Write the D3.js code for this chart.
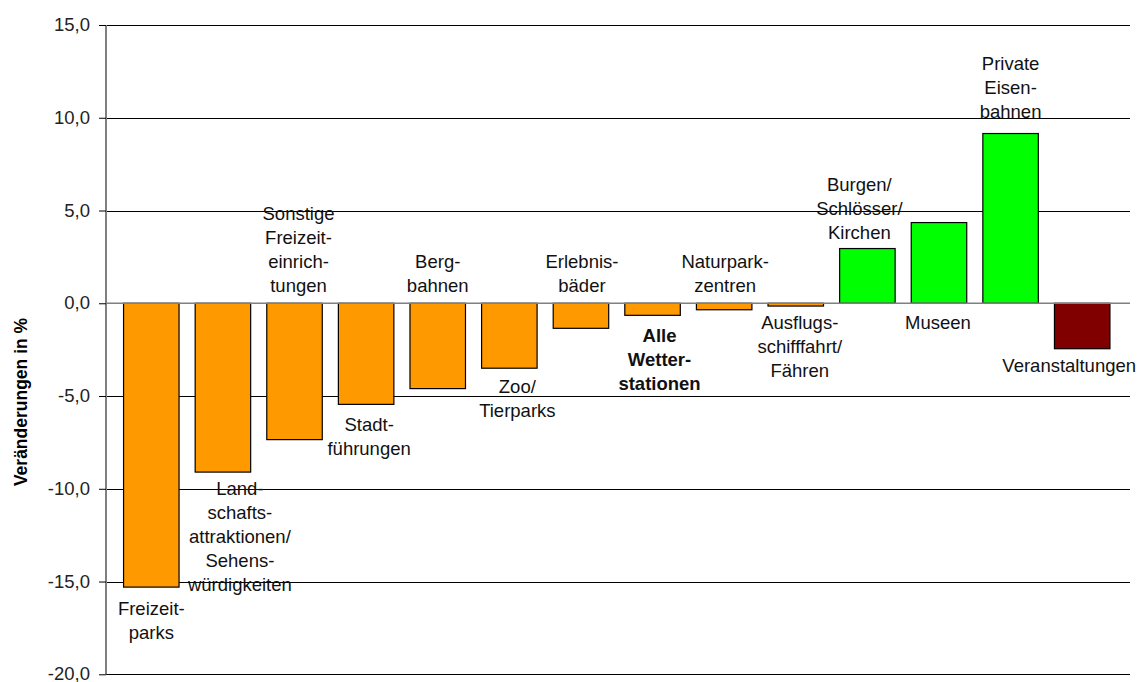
<!DOCTYPE html>
<html>
<head>
    <meta charset="utf-8">
    <title>Veränderungen</title>
    <script src="https://d3js.org/d3.v7.min.js"></script>
    <style>
        body { margin: 0; padding: 0; background: #fff; }
        text { font-family: "Liberation Sans", Arial, sans-serif; }
    </style>
</head>
<body>
<svg width="1139" height="682"></svg>
<script>
    // categories (line breaks as in the original labels)
    const categories = [
        ["Freizeit-", "parks"],
        ["Land-", "schafts-", "attraktionen/", "Sehens-", "würdigkeiten"],
        ["Sonstige", "Freizeit-", "einrich-", "tungen"],
        ["Stadt-", "führungen"],
        ["Berg-", "bahnen"],
        ["Zoo/", "Tierparks"],
        ["Erlebnis-", "bäder"],
        ["Alle", "Wetter-", "stationen"],
        ["Naturpark-", "zentren"],
        ["Ausflugs-", "schifffahrt/", "Fähren"],
        ["Burgen/", "Schlösser/", "Kirchen"],
        ["Museen"],
        ["Private", "Eisen-", "bahnen"],
        ["Veranstaltungen"]
    ];
    const values = [-15.3, -9.1, -7.35, -5.45, -4.6, -3.5, -1.35, -0.65, -0.35, -0.15, 2.95, 4.35, 9.15, -2.45];
    const groups = ["neg", "neg", "neg", "neg", "neg", "neg", "neg", "neg", "neg", "neg", "pos", "pos", "pos", "other"];
    const yTicks = [15, 10, 5, 0, -5, -10, -15, -20];

    // label placement: side of the bar, small nudges
    const labelSide = ["below", "below", "above", "below", "above", "below", "above", "below", "above", "below", "above", "below", "above", "below"];
    const labelNudge = [[0, 2], [17, -3], [4, 0], [3, 1], [0, 0], [8, -1], [1, 0], [7, 1], [1, 0], [4, -3], [-8, 2], [-1, 0], [0, -4], [-13, -2]];

    const colors = { neg: "#FF9900", pos: "#00FF00", other: "#800000" };

    const svg = d3.select("svg");
    const fontSize = 18.5, lineH = 24;

    const x = d3.scaleBand()
        .domain(d3.range(values.length))
        .range([115.5, 1118])
        .paddingInner(0.225)
        .paddingOuter(0.1125);

    const y = d3.scaleLinear()
        .domain([-20, 15])
        .range([674.3, 25]);

    const plotLeft = 106, plotRight = 1130;
    const fmt = v => d3.format(".1f")(v).replace(".", ",").replace("−", "-");

    // gridlines
    svg.append("g").selectAll("line")
        .data(yTicks.filter(t => t !== 0))
        .enter().append("line")
        .attr("x1", plotLeft).attr("x2", plotRight)
        .attr("y1", d => Math.round(y(d)) + 0.5).attr("y2", d => Math.round(y(d)) + 0.5)
        .attr("stroke", "#000").attr("stroke-width", 1);

    // y axis
    const yaxis = d3.axisLeft(y).tickValues(yTicks).tickSize(7).tickFormat(fmt);
    const ga = svg.append("g")
        .attr("transform", `translate(${plotLeft}, 0)`)
        .call(yaxis);
    ga.select(".domain").attr("stroke", "#808080").attr("stroke-width", 2)
        .attr("d", `M0,${y(15)}V${y(-20)}`);
    ga.selectAll(".tick line").attr("stroke", "#000");
    ga.selectAll(".tick text")
        .attr("x", -16)
        .attr("dy", "0.3em")
        .attr("fill", "#222")
        .style("font-family", '"Liberation Sans", Arial, sans-serif')
        .style("font-size", fontSize + "px");

    // bars
    svg.append("g").selectAll("rect")
        .data(values)
        .enter().append("rect")
        .attr("x", (d, i) => x(i))
        .attr("y", d => y(Math.max(0, d)))
        .attr("width", x.bandwidth())
        .attr("height", d => Math.abs(y(d) - y(0)))
        .attr("fill", (d, i) => colors[groups[i]])
        .attr("stroke", "#000")
        .attr("stroke-width", 1.2);

    // zero line
    svg.append("line")
        .attr("x1", plotLeft).attr("x2", plotRight)
        .attr("y1", y(0)).attr("y2", y(0))
        .attr("stroke", "#808080").attr("stroke-width", 1.5);

    // category labels
    const lg = svg.append("g");
    categories.forEach((lines, i) => {
        const v = values[i];
        const cx = x(i) + x.bandwidth() / 2 + labelNudge[i][0];
        let firstY;
        if (labelSide[i] === "above") {
            const top = Math.min(y(v), y(0));
            firstY = top - 18 - (lines.length - 1) * lineH;
        } else {
            const bottom = Math.max(y(v), y(0));
            firstY = bottom + 19;
        }
        firstY += labelNudge[i][1];
        const t = lg.append("text")
            .attr("text-anchor", "middle")
            .style("font-size", fontSize + "px")
            .style("font-weight", i === 7 ? "bold" : "normal")
            .attr("fill", "#111");
        lines.forEach((s, k) => {
            t.append("tspan")
                .attr("x", cx)
                .attr("y", firstY + k * lineH)
                .attr("dy", "0.35em")
                .text(s);
        });
    });

    // y title
    svg.append("text")
        .attr("transform", "translate(21, 402) rotate(-90)")
        .attr("text-anchor", "middle")
        .attr("dy", "0.35em")
        .style("font-size", "17.5px")
        .style("font-weight", "bold")
        .text("Veränderungen in %");
</script>
</body>
</html>
